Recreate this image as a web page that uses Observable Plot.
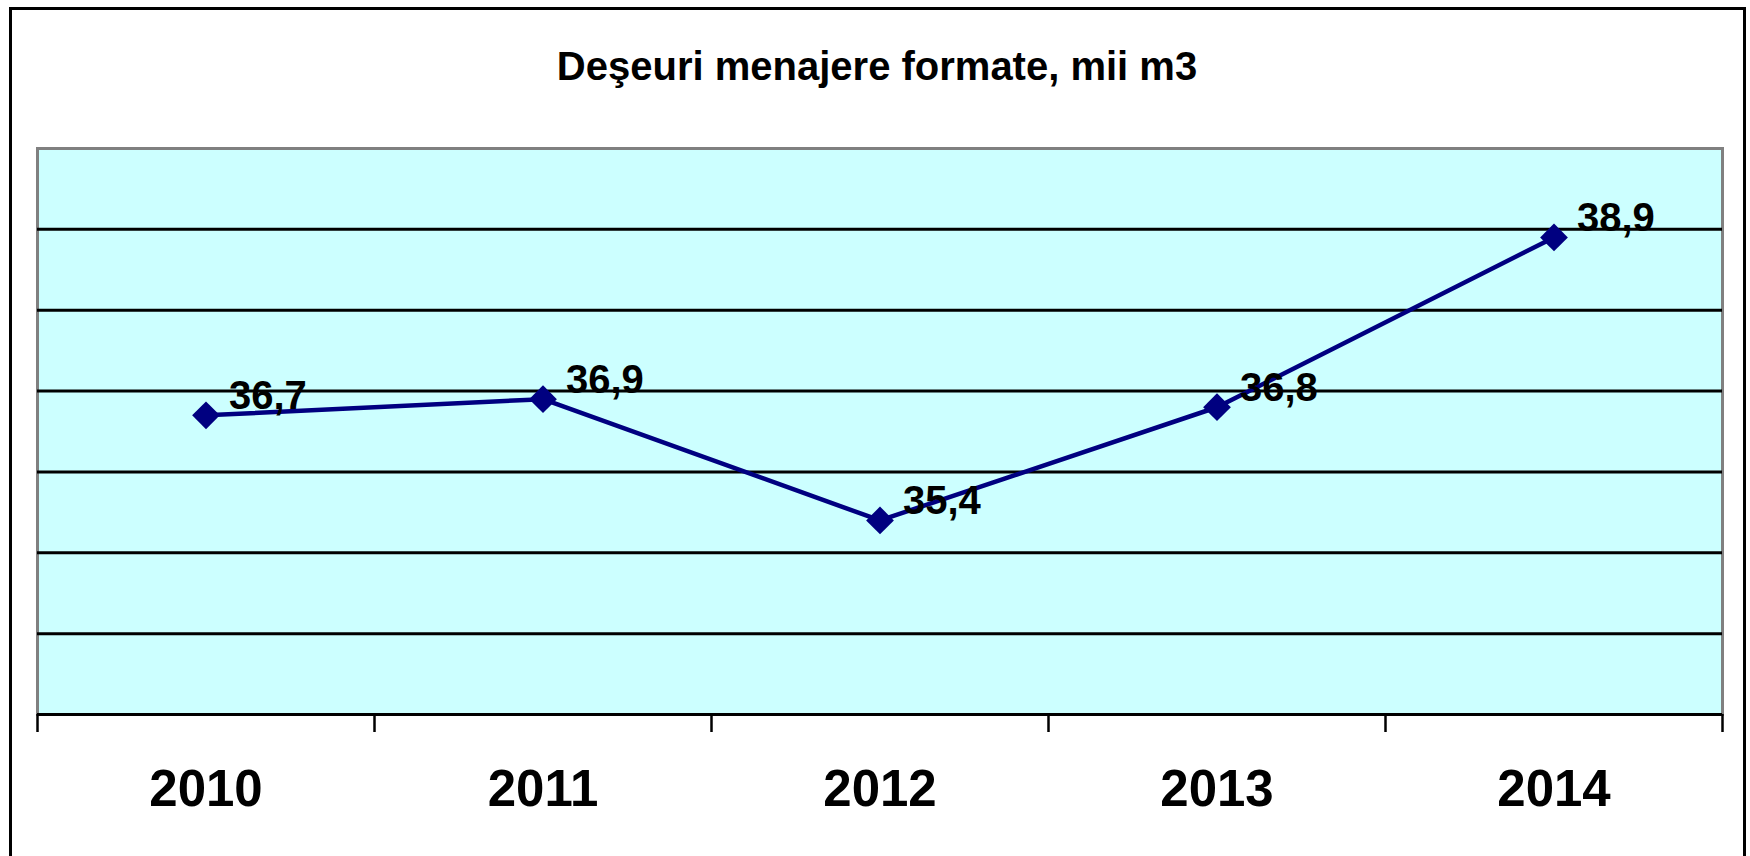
<!DOCTYPE html>
<html>
<head>
<meta charset="utf-8">
<script src="https://cdn.jsdelivr.net/npm/d3@7"></script>
<script src="https://cdn.jsdelivr.net/npm/@observablehq/plot@0.6"></script>
<style>
  body { margin: 0; background: #fff; }
  #wrap { position: relative; width: 1750px; height: 856px; overflow: hidden; background: #fff; }
  #frame { position: absolute; left: 9px; top: 7px; width: 1737px; height: 900px; border: 3px solid #000; box-sizing: border-box; pointer-events: none; z-index: 2; }
  #title { position: relative; height: 110px; width: 1754px; }
  #title span { position: absolute; left: 0; right: 0; top: 46px; text-align: center; font: bold 40px/40px "Liberation Sans", Arial, sans-serif; color: #000; }
  #chart svg { display: block; }
</style>
</head>
<body>
<div id="wrap">
  <div id="frame"></div>
  <div id="title"><span>Deşeuri menajere formate, mii m3</span></div>
  <div id="chart"></div>
</div>
<script>
const years = [2010, 2011, 2012, 2013, 2014];
const values = [36.7, 36.9, 35.4, 36.8, 38.9];
const gridValues = [34, 35, 36, 37, 38, 39];
const yDomain = [33, 40];

const data = years.map((year, i) => ({year, value: values[i]}));
const boundaries = [...years.map(y => y - 0.5), years[years.length - 1] + 0.5];
const fmt = v => v.toFixed(1).replace(".", ",");
const font = "Liberation Sans, Arial, sans-serif";

const chart = Plot.plot({
  width: 1750,
  height: 746,
  marginTop: 38,
  marginBottom: 142,
  marginLeft: 37,
  marginRight: 28,
  style: { fontFamily: font, background: "transparent", overflow: "visible" },
  x: { type: "linear", domain: [boundaries[0], boundaries[boundaries.length - 1]], axis: null },
  y: { domain: yDomain, axis: null },
  marks: [
    Plot.frame({ fill: "#CCFFFF", stroke: "#808080", strokeWidth: 3 }),
    Plot.ruleY(gridValues, { stroke: "#000", strokeWidth: 3 }),
    Plot.ruleY([yDomain[0]], { stroke: "#000", strokeWidth: 3 }),
    Plot.axisX({ ticks: boundaries, tickSize: 18, tickFormat: () => "", label: null, stroke: "#000", strokeWidth: 2.5 }),
    Plot.axisX({ ticks: years, tickSize: 0, tickPadding: 55, tickFormat: d => String(d), label: null, fontSize: 51, fontWeight: "bold", fill: "#000", fontFamily: font }),
    Plot.line(data, { x: "year", y: "value", stroke: "#000080", strokeWidth: 4.5 }),
    Plot.dot(data, { x: "year", y: "value", symbol: "diamond2", r: 12.5, fill: "#000080", stroke: "none" }),
    Plot.text(data, { x: "year", y: "value", text: d => fmt(d.value), textAnchor: "start", dx: 23, dy: -19, fontSize: 40, fontWeight: "bold", fill: "#000", fontFamily: font })
  ]
});
document.getElementById("chart").appendChild(chart);
</script>
</body>
</html>
